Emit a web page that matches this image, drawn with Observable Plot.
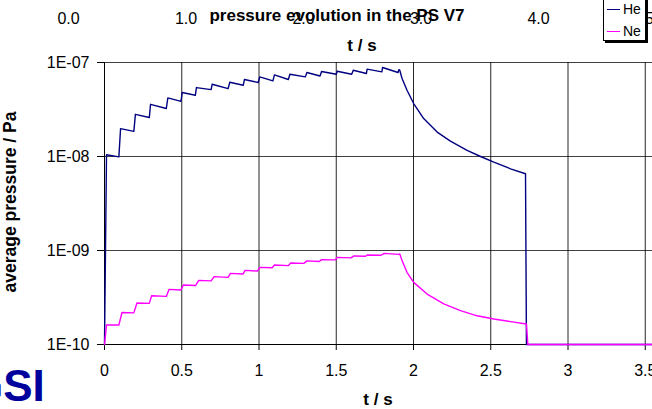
<!DOCTYPE html>
<html>
<head>
<meta charset="utf-8">
<script src="https://cdn.jsdelivr.net/npm/d3@7"></script>
<script src="https://cdn.jsdelivr.net/npm/@observablehq/plot@0.6"></script>
<style>
  body { margin: 0; background: white; }
  #wrap { position: relative; width: 652px; height: 409px; overflow: hidden; background: white;
          font-family: "Liberation Sans", Arial, sans-serif; color: black; }
  .abs { position: absolute; white-space: nowrap; }
  .bold { font-weight: bold; }
  #main, #topaxis { width: 700px; }
  #main svg, #topaxis svg { max-width: none !important; }
</style>
</head>
<body>
<div id="wrap">
  <div id="main" class="abs" style="left:0;top:0"></div>
  <div id="topaxis" class="abs" style="left:0;top:0"></div>
  <div class="abs bold" style="left:337px;top:6px;transform:translateX(-50%);font-size:17px;">pressure evolution in the PS V7</div>
  <div class="abs bold" style="left:362px;top:36px;transform:translateX(-50%);font-size:17px;">t / s</div>
  <div class="abs bold" style="left:378px;top:390px;transform:translateX(-50%);font-size:17px;">t / s</div>
  <div class="abs bold" style="left:10px;top:202px;transform:translate(-50%,-50%) rotate(-90deg);font-size:17.5px;">average pressure / Pa</div>
  <div class="abs bold" style="left:-31px;top:364px;font-size:44px;line-height:44px;color:#00009C;">GSI</div>
  <div class="abs" style="left:603px;top:-3px;width:41px;height:42px;border:1px solid black;box-shadow:2px 2px 0 black;background:white;font-size:14px;">
    <div class="abs" style="left:3px;top:11px;width:13px;height:0;border-top:1.5px solid #000080;"></div>
    <div class="abs" style="left:19px;top:3px;">He</div>
    <div class="abs" style="left:3px;top:33px;width:13px;height:0;border-top:1.5px solid #FF00FF;"></div>
    <div class="abs" style="left:19px;top:25px;">Ne</div>
  </div>
</div>
<script>
// ---- data ----
const heT = [0, 0.013, 0.093, 0.104, 0.19, 0.2, 0.29, 0.298, 0.40, 0.41, 0.495, 0.503, 0.588, 0.595, 0.69, 0.697, 0.80, 0.811, 0.898, 0.906, 0.995, 1.005, 1.09, 1.10, 1.19, 1.20, 1.30, 1.31, 1.395, 1.405, 1.50, 1.506, 1.60, 1.61, 1.695, 1.70, 1.795, 1.80, 1.90, 1.905, 1.911, 1.926, 1.958, 2.001, 2.066, 2.153, 2.239, 2.347, 2.434, 2.52, 2.628, 2.725, 2.731, 3.8];
const heP = [1e-10, 1.045e-8, 0.99e-8, 1.98e-8, 1.85e-8, 2.81e-8, 2.6e-8, 3.59e-8, 3.24e-8, 4.2e-8, 3.86e-8, 4.79e-8, 4.48e-8, 5.41e-8, 5.15e-8, 5.87e-8, 5.28e-8, 6.17e-8, 5.73e-8, 6.6e-8, 6.12e-8, 7.03e-8, 6.37e-8, 7.38e-8, 6.59e-8, 7.5e-8, 7.03e-8, 7.82e-8, 7.19e-8, 8.01e-8, 7.5e-8, 8.07e-8, 7.5e-8, 8.28e-8, 7.63e-8, 8.49e-8, 7.95e-8, 8.85e-8, 7.82e-8, 8.4e-8, 8.28e-8, 6.75e-8, 5.07e-8, 3.66e-8, 2.53e-8, 1.82e-8, 1.46e-8, 1.16e-8, 1.0e-8, 8.7e-9, 7.4e-9, 6.56e-9, 1e-10, 1e-10];
const neT = [0, 0.013, 0.093, 0.113, 0.19, 0.21, 0.29, 0.305, 0.40, 0.418, 0.495, 0.51, 0.59, 0.61, 0.69, 0.71, 0.80, 0.815, 0.896, 0.91, 0.99, 1.005, 1.085, 1.10, 1.19, 1.205, 1.29, 1.31, 1.39, 1.405, 1.495, 1.505, 1.595, 1.615, 1.69, 1.70, 1.79, 1.81, 1.905, 1.911, 1.926, 1.958, 2.001, 2.088, 2.196, 2.304, 2.412, 2.52, 2.628, 2.731, 2.74, 3.8];
const neP = [1e-10, 1.61e-10, 1.61e-10, 2.19e-10, 2.17e-10, 2.76e-10, 2.74e-10, 3.3e-10, 3.25e-10, 3.86e-10, 3.8e-10, 4.3e-10, 4.25e-10, 4.81e-10, 4.75e-10, 5.27e-10, 5.18e-10, 5.71e-10, 5.62e-10, 6.15e-10, 6.05e-10, 6.62e-10, 6.55e-10, 7.0e-10, 6.9e-10, 7.37e-10, 7.3e-10, 7.75e-10, 7.65e-10, 8.0e-10, 7.95e-10, 8.45e-10, 8.35e-10, 8.75e-10, 8.7e-10, 8.97e-10, 8.9e-10, 9.33e-10, 9.1e-10, 9.2e-10, 7.8e-10, 5.86e-10, 4.58e-10, 3.44e-10, 2.7e-10, 2.29e-10, 2.02e-10, 1.87e-10, 1.75e-10, 1.65e-10, 1e-10, 1e-10];
const xTicks = [0, 0.5, 1, 1.5, 2, 2.5, 3, 3.5];
const yTicks = [1e-10, 1e-9, 1e-8, 1e-7];
const topTicks = [0, 1, 2, 3, 4, 5];

const heData = heT.map((t, i) => ({t, p: heP[i]}));
const neData = neT.map((t, i) => ({t, p: neP[i]}));
const fmtE = d => "1E-" + String(-Math.round(Math.log10(d))).padStart(2, "0");

const W = 700, xMax = 3.8;
const mainPlot = Plot.plot({
  width: W, height: 409,
  marginLeft: 104, marginRight: W - 104 - xMax * 154.5,
  marginTop: 62, marginBottom: 65,
  x: {domain: [0, xMax]},
  y: {type: "log", domain: [1e-10, 1e-7]},
  style: {fontFamily: "'Liberation Sans', Arial, sans-serif", fontSize: "16px", color: "black", background: "transparent", maxWidth: "none"},
  marks: [
    Plot.gridX(xTicks, {stroke: "black", strokeOpacity: 0.85}),
    Plot.gridY(yTicks, {stroke: "black", strokeOpacity: 0.75}),
    Plot.ruleX([0], {stroke: "black"}),
    Plot.ruleY([1e-10], {stroke: "black"}),
    Plot.axisX(xTicks, {tickSize: 6, tickPadding: 14, tickFormat: d => String(d), label: null}),
    Plot.axisY(yTicks, {tickSize: 7, tickPadding: 8, tickFormat: fmtE, label: null}),
    Plot.line(heData, {x: "t", y: "p", stroke: "#000080", strokeWidth: 1.4}),
    Plot.line(neData, {x: "t", y: "p", stroke: "#FF00FF", strokeWidth: 1.4})
  ]
});
document.getElementById("main").appendChild(mainPlot);

const topPlot = Plot.plot({
  width: W, height: 30,
  marginLeft: 68, marginRight: W - 68 - 5 * 117.5,
  marginTop: 23, marginBottom: 7,
  x: {domain: [0, 5]},
  style: {fontFamily: "'Liberation Sans', Arial, sans-serif", fontSize: "16px", color: "black", background: "transparent", maxWidth: "none"},
  marks: [
    Plot.axisX(topTicks, {anchor: "top", tickSize: 0, tickPadding: 0, tickFormat: d => d.toFixed(1), label: null})
  ]
});
document.getElementById("topaxis").appendChild(topPlot);
</script>
</body>
</html>
